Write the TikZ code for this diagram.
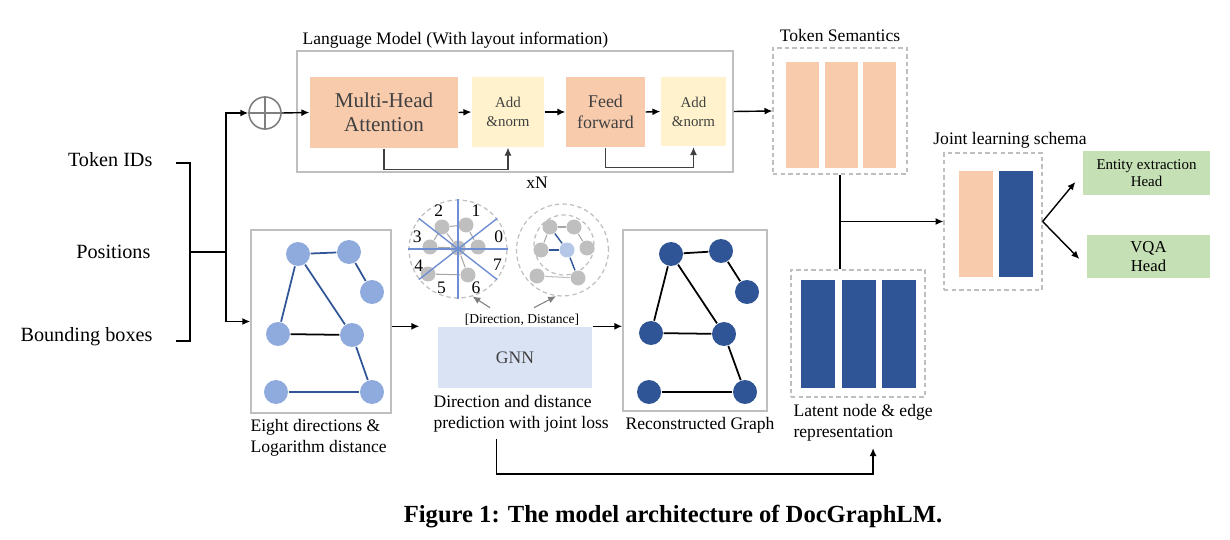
\documentclass[tikz,border=0pt]{standalone}
\usepackage{fontspec}
\setmainfont{Liberation Serif}
\usetikzlibrary{calc, arrows.meta}

\definecolor{framegray}{HTML}{BFBFBF}
\definecolor{dashgray}{HTML}{BFBFBF}
\definecolor{peach}{HTML}{F8CBAD}
\definecolor{paleyellow}{HTML}{FFF2CC}
\definecolor{headgreen}{HTML}{C5E0B4}
\definecolor{lightblue}{HTML}{8FAADC}
\definecolor{darkblue}{HTML}{2F5597}
\definecolor{gnnblue}{HTML}{DAE3F3}
\definecolor{txtgray}{HTML}{404040}
\definecolor{nodegray}{HTML}{BFBFBF}
\definecolor{edgegray}{HTML}{A6A6A6}
\definecolor{dirblue}{HTML}{6F8FD2}
\definecolor{centerblue}{HTML}{B4C7E7}
\definecolor{plusgray}{HTML}{7F7F7F}

\tikzset{
  lmframe/.style={draw=framegray, line width=0.9pt},
  dashframe/.style={draw=dashgray, line width=0.7pt, dash pattern=on 2.5pt off 1.8pt},
  block/.style={fill=peach, text=txtgray, align=center, inner sep=0pt},
  addbox/.style={fill=paleyellow, text=txtgray, align=center, inner sep=0pt,
    font=\fontsize{8.5}{10.8}\selectfont, minimum height=1.4cm},
  semabar/.style={fill=peach, minimum width=0.66cm, minimum height=2.12cm, inner sep=0pt},
  latbar/.style={fill=darkblue, minimum width=0.68cm, minimum height=2.16cm, inner sep=0pt},
  headbox/.style={fill=headgreen, align=center, inner sep=0pt},
  lnode/.style={circle, fill=lightblue, minimum size=0.48cm, inner sep=0pt},
  dnode/.style={circle, fill=darkblue, minimum size=0.48cm, inner sep=0pt},
  snode/.style={circle, fill=nodegray, minimum size=0.3cm, inner sep=0pt},
  bedge/.style={draw=darkblue, line width=1pt},
  kedge/.style={draw=black, line width=1pt},
  sedge/.style={draw=edgegray, line width=0.6pt},
  dirline/.style={draw=dirblue, line width=0.8pt},
  skipline/.style={draw=txtgray, line width=0.6pt},
  twoline/.style={anchor=north west, align=left, font=\fontsize{10}{12}\selectfont}
}

\begin{document}
\begin{tikzpicture}[x=0.02cm, y=-0.02cm, >={Latex[length=4.5pt,width=4pt]}, line width=0.8pt,
    every node/.style={font=\fontsize{10}{12}\selectfont}]
    \useasboundingbox (0,0) rectangle (1230,540);

    % 1. Language model block
    \node[lmframe, minimum width=8.72cm, minimum height=2.42cm] (lm) at (515,111.5) {};
    \node[anchor=base west] (lmlab) at (296,45) {Language Model (With layout information)};
    \node[block, minimum width=2.96cm, minimum height=1.42cm, font=\fontsize{12}{13.6}\selectfont] (mha) at (384,112.5) {Multi-Head\\Attention};
    \node[addbox, minimum width=1.44cm] (add1) at (508,112) {Add\\\&norm};
    \node[block, minimum width=1.58cm, minimum height=1.4cm, font=\fontsize{10.2}{12}\selectfont] (ff) at (605.5,112) {Feed\\forward};
    \node[addbox, minimum width=1.3cm] (add2) at (693.5,111.5) {Add\\\&norm};
    \node (xn) at (537,183) {xN};
    \node[circle, draw=plusgray, line width=0.9pt, minimum size=0.64cm, inner sep=0pt] (plus) at (265,113) {};
    \draw[plusgray, line width=0.9pt] (plus.north) -- (plus.south) (plus.west) -- (plus.east);

    \draw[->] (plus.east) -- (mha.west);
    \draw[->] (mha.east) -- (add1.west);
    \draw[->] (add1.east) -- (ff.west);
    \draw[->] (ff.east) -- (add2.west);
    \draw[->, skipline] (mha.south) -- ++(0,21) -| (add1.south);
    \draw[->, skipline] (ff.south) -- ++(0,20) -| (add2.south);

    % 2. Token semantics
    \node[dashframe, minimum width=2.68cm, minimum height=2.52cm] (ts) at (840,111) {};
    \node (tslab) at (840,35) {Token Semantics};
    \foreach \i/\x in {1/802.5, 2/841, 3/879.5}
        \node[semabar] (ts\i) at (\x,115) {};
    \draw[->] (lm.east) -- (ts.west);

    % 3. Joint learning and heads
    \node[dashframe, minimum width=1.96cm, minimum height=2.74cm] (joint) at (993,221.5) {};
    \node (jlab) at (1010,140) {Joint learning schema};
    \node[semabar, minimum width=0.68cm] (jl1) at (976,224) {};
    \node[latbar, minimum height=2.12cm] (jl2) at (1016,224) {};
    \node[headbox, minimum width=2.54cm, minimum height=0.88cm, font=\fontsize{8.5}{10}\selectfont] (ent) at (1146.5,173) {Entity extraction\\Head};
    \node[headbox, minimum width=2.46cm, minimum height=0.86cm, font=\fontsize{9.5}{10.4}\selectfont] (vqa) at (1148.5,256.5) {VQA\\Head};
    \coordinate (entin) at ([xshift=-0.14cm, yshift=-0.18cm]ent.west);
    \coordinate (vqain) at ([xshift=-0.14cm, yshift=-0.05cm]vqa.west);
    \draw[->] (joint.east) -- (entin);
    \draw[->] (joint.east) -- (vqain);

    % 4. Input graph
    \node[lmframe, minimum width=2.8cm, minimum height=3.66cm] (g1) at (321,321.5) {};
    \node[lnode] (a1) at (298,254) {};
    \node[lnode] (a2) at (349,252) {};
    \node[lnode] (a3) at (372,292) {};
    \node[lnode] (a4) at (278,334) {};
    \node[lnode] (a5) at (352,335) {};
    \node[lnode] (a6) at (276,392) {};
    \node[lnode] (a7) at (372,392) {};
    \draw[bedge] (a1) -- (a2);
    \draw[bedge] (a2) -- (a3);
    \draw[bedge] (a1) -- (a4);
    \draw[bedge] (a1) -- (a5);
    \draw[kedge] (a4) -- (a5);
    \draw[bedge] (a5) -- (a7);
    \draw[bedge] (a6) -- (a7);
    \node[twoline] (g1lab) at (244,413) {Eight directions \&\\Logarithm distance};

    % 5. Inputs
    \node[anchor=east, font=\fontsize{11.5}{13}\selectfont] (tok) at (159,160) {Token IDs};
    \node[anchor=east, font=\fontsize{11.5}{13}\selectfont] (pos) at (157,252) {Positions};
    \node[anchor=east, font=\fontsize{11.5}{13}\selectfont] (bbox) at (159,337) {Bounding boxes};
    \coordinate (brtop) at ([xshift=0.34cm, yshift=-0.06cm]tok.east);
    \coordinate (brbot) at ([xshift=0.34cm, yshift=-0.08cm]bbox.east);
    \coordinate (brmid) at ([xshift=0.28cm]brtop |- pos.east);
    \coordinate (split) at (226,252);
    \draw (brtop) -- ++(14,0) |- (brbot);
    \draw (brmid) -- (split);
    \draw[->] (split) |- (plus.west);
    \draw[->] (split) |- (g1.west);

    % 6. GNN
    \node[fill=gnnblue, text=txtgray, minimum width=3.08cm, minimum height=1.22cm] (gnn) at (515,357.5) {GNN};
    \node[font=\fontsize{7.7}{9}\selectfont] (dirlab) at (522,320) {[Direction, Distance]};
    \node[twoline] (ddlab) at (427,389) {Direction and distance\\prediction with joint loss};
    \draw[->, shorten >=0.36cm] (g1.east |- gnn.north) -- (gnn.north west);

    % 7. Direction circle
    \node[circle, dashframe, minimum size=1.96cm, inner sep=0pt] (dirc) at (458,249) {};
    \node[snode] (c1) at (442,227) {};
    \node[snode] (c2) at (466,225) {};
    \node[snode] (c3) at (478,247) {};
    \node[snode] (c4) at (430,247) {};
    \node[snode] (c5) at (458,248) {};
    \node[snode] (c6) at (428,274) {};
    \node[snode] (c7) at (468,275) {};
    \draw[sedge] (c1) -- (c2);
    \draw[sedge] (c2) -- (c3);
    \draw[sedge] (c1) -- (c4);
    \draw[sedge] (c1) -- (c5);
    \draw[sedge] (c4) -- (c5);
    \draw[sedge] (c5) -- (c7);
    \draw[sedge] (c6) -- (c7);
    \draw[dirline] (dirc.west) -- (dirc.east);
    \draw[dirline] (dirc.north) -- (dirc.south);
    \draw[dirline] (dirc.38) -- (dirc.218);
    \draw[dirline] (dirc.142) -- (dirc.322);
    \foreach \k/\a in {0/17, 1/65, 2/117, 3/163, 4/203, 5/247, 6/295, 7/338}
        \node[inner sep=0pt] (num\k) at ($(dirc.center)+(\a:0.85cm)$) {\k};

    % 8. Distance circle
    \node[circle, dashframe, minimum size=1.84cm, inner sep=0pt] (distc) at (562.5,250) {};
    \node[circle, dashframe, minimum size=1.2cm, inner sep=0pt] (distin) at (564,245) {};
    \node[snode] (e1) at (550,227) {};
    \node[snode] (e2) at (574,227) {};
    \node[snode] (e3) at (587,248) {};
    \node[snode] (e4) at (541,250) {};
    \node[snode, fill=centerblue] (e5) at (567,250) {};
    \node[snode] (e6) at (537,276) {};
    \node[snode] (e7) at (578,278) {};
    \draw[sedge] (e1) -- (e2);
    \draw[sedge] (e2) -- (e3);
    \draw[sedge] (e1) -- (e4);
    \draw[bedge, line width=0.8pt] (e1) -- (e5);
    \draw[bedge, line width=0.8pt] (e4) -- (e5);
    \draw[bedge, line width=0.8pt] (e5) -- (e7);
    \draw[sedge, draw=nodegray] (e6) -- (e7);
    \draw[->, plusgray, line width=0.6pt] ([xshift=-0.64cm]dirlab.north) -- (dirc.287);
    \draw[->, plusgray, line width=0.6pt] ([xshift=0.24cm]dirlab.north) -- (distc.262);

    % 9. Reconstructed graph
    \node[lmframe, minimum width=2.88cm, minimum height=3.62cm] (g2) at (695,320.5) {};
    \node[dnode] (b1) at (671,254) {};
    \node[dnode] (b2) at (721,251) {};
    \node[dnode] (b3) at (747,292) {};
    \node[dnode] (b4) at (651,333) {};
    \node[dnode] (b5) at (724,334) {};
    \node[dnode] (b6) at (649,392) {};
    \node[dnode] (b7) at (745,392) {};
    \draw[kedge] (b1) -- (b2);
    \draw[kedge] (b2) -- (b3);
    \draw[kedge] (b1) -- (b4);
    \draw[kedge] (b1) -- (b5);
    \draw[kedge] (b4) -- (b5);
    \draw[kedge] (b5) -- (b7);
    \draw[kedge] (b6) -- (b7);
    \node (g2lab) at (700,425) {Reconstructed Graph};
    \draw[->] (gnn.north east) -- (g2.west |- gnn.north);

    % 10. Latent representation
    \node[dashframe, minimum width=2.68cm, minimum height=2.54cm] (lat) at (858,333.5) {};
    \foreach \i/\x in {1/818, 2/858.5, 3/898.5}
        \node[latbar] (lat\i) at (\x,334) {};
    \node[twoline] (latlab) at (787,398) {Latent node \& edge\\representation};
    \draw (ts.south) -- (ts.south |- lat.north);
    \draw[->] (ts.south |- joint.west) -- (joint.west);
    \draw[->] ([xshift=-0.49cm]ddlab.south) -- ++(0,35) -| ([xshift=0.2cm]latlab.south);

    % 11. Caption
    \node[font=\fontsize{14}{16}\bfseries] (cap) at (673,517) {Figure 1: The model architecture of DocGraphLM.};

\end{tikzpicture}
\end{document}
